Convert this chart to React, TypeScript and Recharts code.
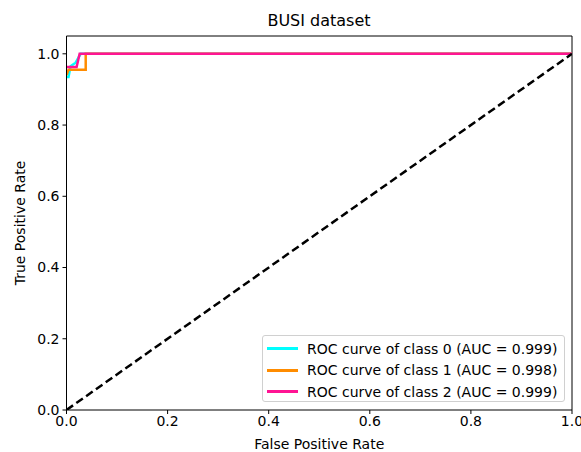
import React from 'react';
import { LineChart, Line, XAxis, YAxis, ReferenceLine } from 'recharts';

const class0Points = [
  { x: 0.0, y: 0.935 }, { x: 0.004, y: 0.935 }, { x: 0.008, y: 0.965 },
  { x: 0.018, y: 0.975 }, { x: 0.028, y: 1.0 }, { x: 1, y: 1.0 },
];
const class1Points = [
  { x: 0.0, y: 0.94 }, { x: 0.004, y: 0.955 }, { x: 0.038, y: 0.955 },
  { x: 0.038, y: 1.0 }, { x: 1, y: 1.0 },
];
const class2Points = [
  { x: 0.0, y: 0.963 }, { x: 0.02, y: 0.963 }, { x: 0.026, y: 1.0 }, { x: 1, y: 1.0 },
];
const chancePoints = [{ x: 0, y: 0 }, { x: 1, y: 1 }];

const xTicks = [0, 0.2, 0.4, 0.6, 0.8, 1.0];
const yTicks = [0, 0.2, 0.4, 0.6, 0.8, 1.0];

const series = [
  { name: 'ROC curve of class 0 (AUC = 0.999)', color: '#00FFFF', data: class0Points },
  { name: 'ROC curve of class 1 (AUC = 0.998)', color: '#FF8C00', data: class1Points },
  { name: 'ROC curve of class 2 (AUC = 0.999)', color: '#FF1493', data: class2Points },
];

const FONT = '"DejaVu Sans", sans-serif';
const FS = 14;

const LegendBox = () => (
  <div
    style={{
      position: 'absolute',
      left: 262,
      top: 335,
      width: 303,
      height: 67,
      boxSizing: 'border-box',
      border: '1px solid #d0d0d0',
      borderRadius: 3,
      background: 'rgba(255,255,255,0.8)',
      fontFamily: FONT,
      fontSize: FS,
      color: '#000',
      paddingTop: 2,
    }}
  >
    {series.map((s) => (
      <div key={s.name} style={{ display: 'flex', alignItems: 'center', height: 21.5 }}>
        <div style={{ width: 31, height: 2.7, background: s.color, marginLeft: 4, marginRight: 9 }} />
        <span style={{ whiteSpace: 'nowrap' }}>{s.name}</span>
      </div>
    ))}
  </div>
);

export default function App() {
  return (
    <div style={{ position: 'absolute', left: 0, top: 0, width: 581, height: 452, background: '#fff' }}>
      <div
        style={{
          position: 'absolute',
          left: 66,
          width: 506,
          top: 11,
          textAlign: 'center',
          fontFamily: FONT,
          fontSize: 16,
          color: '#000',
        }}
      >
        BUSI dataset
      </div>
      <LineChart
        width={581}
        height={452}
        margin={{ top: 36, right: 9, bottom: 0, left: 0 }}
        style={{ fontFamily: FONT }}
      >
        <XAxis
          type="number"
          dataKey="x"
          domain={[0, 1]}
          ticks={xTicks}
          tickFormatter={(v: number) => v.toFixed(1)}
          allowDataOverflow
          height={42}
          stroke="#000"
          tickSize={4}
          tickMargin={2}
          tick={{ fill: '#000', fontSize: FS }}
          label={{ value: 'False Positive Rate', position: 'insideBottom', offset: 3, fill: '#000', fontSize: FS }}
        />
        <YAxis
          type="number"
          dataKey="y"
          domain={[0, 1.05]}
          ticks={yTicks}
          tickFormatter={(v: number) => v.toFixed(1)}
          allowDataOverflow
          width={66.5}
          stroke="#000"
          tickSize={4}
          tickMargin={3}
          tick={{ fill: '#000', fontSize: FS }}
          label={{ value: 'True Positive Rate', angle: -90, position: 'insideLeft', offset: 20, fill: '#000', fontSize: FS, style: { textAnchor: 'middle' } }}
        />
        <ReferenceLine y={1.05} stroke="#000" strokeWidth={1} ifOverflow="extendDomain" />
        <ReferenceLine x={1} stroke="#000" strokeWidth={1} ifOverflow="extendDomain" />
        {series.map((s) => (
          <Line
            key={s.name}
            data={s.data}
            dataKey="y"
            type="linear"
            stroke={s.color}
            strokeWidth={2.5}
            dot={false}
            isAnimationActive={false}
            name={s.name}
          />
        ))}
        <Line
          data={chancePoints}
          dataKey="y"
          type="linear"
          stroke="#000"
          strokeWidth={2.5}
          strokeDasharray="8 4"
          dot={false}
          isAnimationActive={false}
          legendType="none"
        />
      </LineChart>
      <LegendBox />
    </div>
  );
}
